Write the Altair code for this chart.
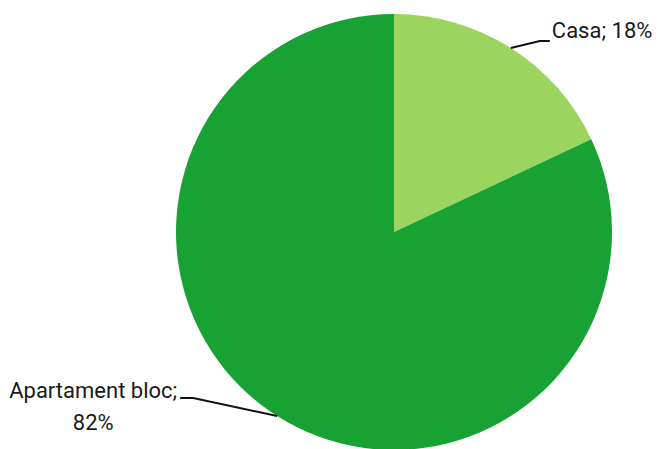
import math
import altair as alt
import pandas as pd

categories = ["Casa", "Apartament bloc"]
values = [18, 82]
label_lines = [["Casa; 18%"], ["Apartament bloc;", "82%"]]
colors = ["#9BD45E", "#18A234"]

CX, CY, R = 386, 224, 218

pie = pd.DataFrame({"cat": categories, "val": values, "ord": [0, 1]})

# leader lines computed from slice mid-angles
total = sum(values)
lead_rows, text_rows = [], []
cum = 0
elbows = [((29, -7), (10, 0)), ((-84, -18), (-13, 0))]
text_off = [(2, -10, "left"), (-87, -7, "center")]
for i, (c, v) in enumerate(zip(categories, values)):
    mid = (cum + v / 2) / total * 2 * math.pi
    cum += v
    px = CX + R * math.sin(mid)
    py = CY - R * math.cos(mid)
    (ex, ey), (hx, hy) = elbows[i]
    pts = [(px, py), (px + ex, py + ey), (px + ex + hx, py + ey + hy)]
    for k, (x, y) in enumerate(pts):
        lead_rows.append({"cat": c, "k": k, "x": x, "y": y})
    endx, endy = pts[-1]
    tx, ty, al = text_off[i]
    text_rows.append({"cat": c, "x": endx + tx, "y": endy + ty, "t": label_lines[i], "al": al})

lead = pd.DataFrame(lead_rows)
txt = pd.DataFrame(text_rows)

arc = alt.Chart(pie).mark_arc(radius=R).encode(
    theta=alt.Theta("val:Q", stack=True),
    order=alt.Order("ord:Q"),
    color=alt.Color("cat:N", scale=alt.Scale(domain=categories, range=colors), legend=None),
    x=alt.value(CX),
    y=alt.value(CY),
)

lines = alt.Chart(lead).mark_line(color="#111111", strokeWidth=2).encode(
    x=alt.X("x:Q", scale=None, axis=None),
    y=alt.Y("y:Q", scale=None, axis=None),
    detail="cat:N",
    order="k:Q",
)

font = "Roboto"
t1 = alt.Chart(txt[txt.al == "left"]).mark_text(
    align="left", baseline="middle", fontSize=22, font=font, color="#1a1a1a", lineHeight=32
).encode(x=alt.X("x:Q", scale=None, axis=None), y=alt.Y("y:Q", scale=None, axis=None), text="t")
t2 = alt.Chart(txt[txt.al == "center"]).mark_text(
    align="center", baseline="middle", fontSize=22, font=font, color="#1a1a1a", lineHeight=32
).encode(x=alt.X("x:Q", scale=None, axis=None), y=alt.Y("y:Q", scale=None, axis=None), text="t")

chart = alt.layer(arc, lines, t1, t2).properties(
    width=646, height=441, padding=0, autosize=alt.AutoSizeParams(type="none")
).configure_view(stroke=None)

chart.save("out.html", embed_options={"renderer": "svg", "actions": False})
